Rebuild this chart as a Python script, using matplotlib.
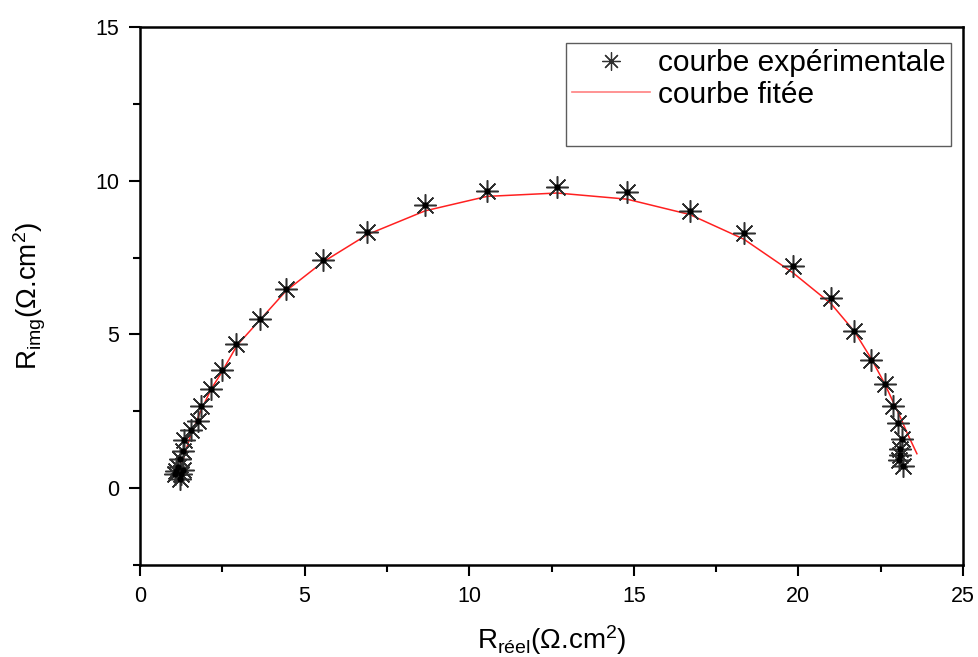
import matplotlib
matplotlib.use('Agg')
import matplotlib.pyplot as plt
from matplotlib.lines import Line2D

plt.rcParams['font.family'] = ['Liberation Sans', 'DejaVu Sans']
plt.rcParams['mathtext.fontset'] = 'custom'
plt.rcParams['mathtext.rm'] = 'Liberation Sans'
plt.rcParams['mathtext.it'] = 'Liberation Sans'

# experimental points (Nyquist)
x_exp = [1.05, 1.10, 1.20, 1.25, 1.15, 1.30, 1.20, 1.30, 1.35, 1.55, 1.75, 1.85,
         2.15, 2.48, 2.91, 3.65, 4.44, 5.55, 6.91, 8.66, 10.54, 12.67, 14.79,
         16.70, 18.34, 19.84, 20.99, 21.70, 22.22, 22.62, 22.88, 23.02, 23.15,
         23.10, 23.08, 23.05, 23.18]
y_exp = [0.45, 0.55, 0.30, 0.45, 0.70, 0.60, 0.95, 1.21, 1.55, 1.88, 2.20, 2.67,
         3.24, 3.83, 4.70, 5.50, 6.47, 7.42, 8.34, 9.21, 9.65, 9.81, 9.62,
         9.02, 8.30, 7.23, 6.18, 5.11, 4.17, 3.38, 2.67, 2.13, 1.59,
         1.26, 1.07, 0.90, 0.72]

# fitted curve
x_fit = [1.16, 1.30, 1.50, 1.80, 2.15, 2.50, 2.95, 3.65, 4.44, 5.55, 6.91, 8.66,
         10.54, 12.67, 14.79, 16.70, 18.34, 19.84, 20.99, 21.70, 22.22, 22.62,
         22.88, 23.10, 23.30, 23.60]
y_fit = [0.23, 0.90, 1.60, 2.40, 3.20, 3.80, 4.65, 5.48, 6.42, 7.35, 8.25, 9.02,
         9.49, 9.60, 9.40, 8.90, 8.10, 7.00, 6.00, 5.10, 4.20, 3.40,
         2.80, 2.30, 1.80, 1.12]

fig = plt.figure(figsize=(9.79, 6.57), dpi=100)
ax = fig.add_axes([140/979, 1-565/657, 823/979, 538/657])

ax.plot(x_exp, y_exp, linestyle='none', marker=(8, 2, 0), markersize=16,
        markeredgewidth=1.1, color='#303030', zorder=3)
ax.plot(x_exp, y_exp, linestyle='none', marker='o', markersize=3.5,
        color='black', zorder=4)
ax.plot(x_fit, y_fit, color='#ff2020', linewidth=1.1, zorder=2)

ax.set_xlim(0, 25)
ax.set_ylim(-2.5, 15)
ax.set_xticks([0, 5, 10, 15, 20, 25])
ax.set_yticks([0, 5, 10, 15])
ax.set_xticks([2.5, 7.5, 12.5, 17.5, 22.5], minor=True)
ax.set_yticks([-2.5, 2.5, 7.5, 12.5], minor=True)
ax.tick_params(which='major', direction='out', length=8, width=1.5,
               labelsize=15.5, pad=7, top=False, right=False)
ax.tick_params(which='minor', direction='out', length=5, width=1.5,
               top=False, right=False)
for s in ax.spines.values():
    s.set_linewidth(1.8)

ax.set_xlabel('R$_{\\mathrm{réel}}$(Ω.cm$^{2}$)', fontsize=20, labelpad=12)
ax.set_ylabel('R$_{\\mathrm{img}}$(Ω.cm$^{2}$)', fontsize=20, labelpad=34)

handles = [
    Line2D([], [], linestyle='none', marker=(8, 2, 0), markersize=13,
           markeredgewidth=0.9, color='#303030'),
    Line2D([], [], color='#ff8080', linewidth=1.2),
    Line2D([], [], linestyle='none'),
]
leg = ax.legend(handles, ['courbe expérimentale', 'courbe fitée', ' '],
                loc='upper right', bbox_to_anchor=(0.986, 0.970),
                borderaxespad=0, fontsize=21.5, frameon=True, fancybox=False,
                edgecolor='#333333', handlelength=2.6, labelspacing=0.12,
                borderpad=0.2, handletextpad=0.27)
leg.get_frame().set_linewidth(1.0)

fig.savefig('out.png', dpi=100)
